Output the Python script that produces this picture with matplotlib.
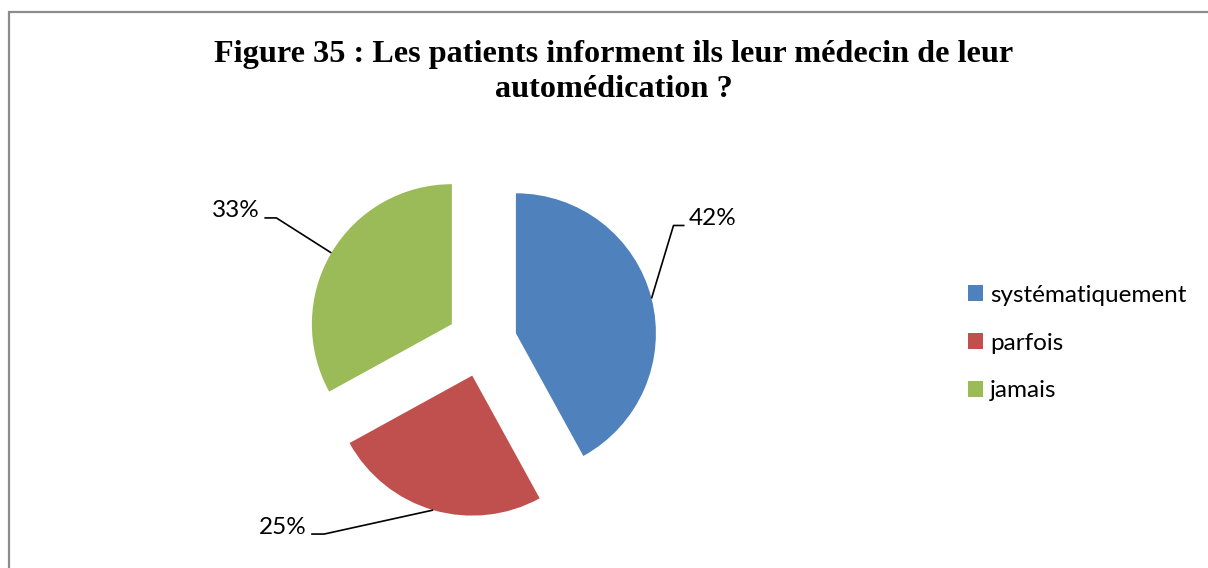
import numpy as np
import matplotlib
matplotlib.use("Agg")
import matplotlib.pyplot as plt
from matplotlib.patches import Rectangle

# ---- data ----
categories = ["systématiquement", "parfois", "jamais"]
values = [42, 25, 33]
pct_labels = ["42%", "25%", "33%"]
colors = ["#4F81BD", "#C0504D", "#9BBB59"]
title = "Figure 35 : Les patients informent ils leur médecin de leur\nautomédication ?"

W, H = 1208, 568
fig = plt.figure(figsize=(W / 100, H / 100), dpi=100)
ax = fig.add_axes([0, 0, 1, 1])

label_font = "Lato"

# outer frame
fig.patches.append(Rectangle((9 / W, 0 - 0.05), 1.1, (H - 12) / H + 0.05,
                             transform=fig.transFigure, fill=False,
                             edgecolor="#8C8C8C", linewidth=1.6))

R = 140
cx, cy = 482, H - 342
explode = [35, 35, 35]
wedges, _ = ax.pie(values, colors=colors, startangle=90, counterclock=False,
                   radius=R, center=(cx, cy), explode=explode,
                   wedgeprops=dict(linewidth=0), frame=True)
ax.set_xlim(0, W)
ax.set_ylim(0, H)
ax.set_aspect("auto")
ax.axis("off")

# leader lines: (elbow dx, dy from arc point), horizontal length, side
leaders = [((22, 73), 11, "right"),
           ((-109, -24), -13, "left"),
           ((-55, 35), -12, "left")]
for w, lab, (elb, hl, side) in zip(wedges, pct_labels, leaders):
    th = np.deg2rad(0.5 * (w.theta1 + w.theta2))
    px = w.center[0] + w.r * np.cos(th)
    py = w.center[1] + w.r * np.sin(th)
    ex, ey = px + elb[0], py + elb[1]
    hx = ex + hl
    ax.plot([px, ex, hx], [py, ey, ey], color="black", lw=1.2,
            solid_capstyle="butt")
    if side == "right":
        ax.text(hx + 4, ey + 7, lab, ha="left", va="center",
                fontsize=17.5, family=label_font)
    else:
        ax.text(hx - 5, ey + 7, lab, ha="right", va="center",
                fontsize=17.5, family=label_font)

fig.text(614 / W, 1 - 72 / H, title, ha="center", va="center",
         fontsize=23.2, fontweight="bold", family="Liberation Serif",
         linespacing=1.27)

leg = ax.legend(wedges, categories, loc="upper left",
                bbox_to_anchor=(946 / W, 1 - 263 / H),
                frameon=False, handlelength=0.62, handleheight=0.62,
                handletextpad=0.3, labelspacing=1.1,
                prop=dict(family=label_font, size=17.5))

fig.savefig("out.png", dpi=100)
